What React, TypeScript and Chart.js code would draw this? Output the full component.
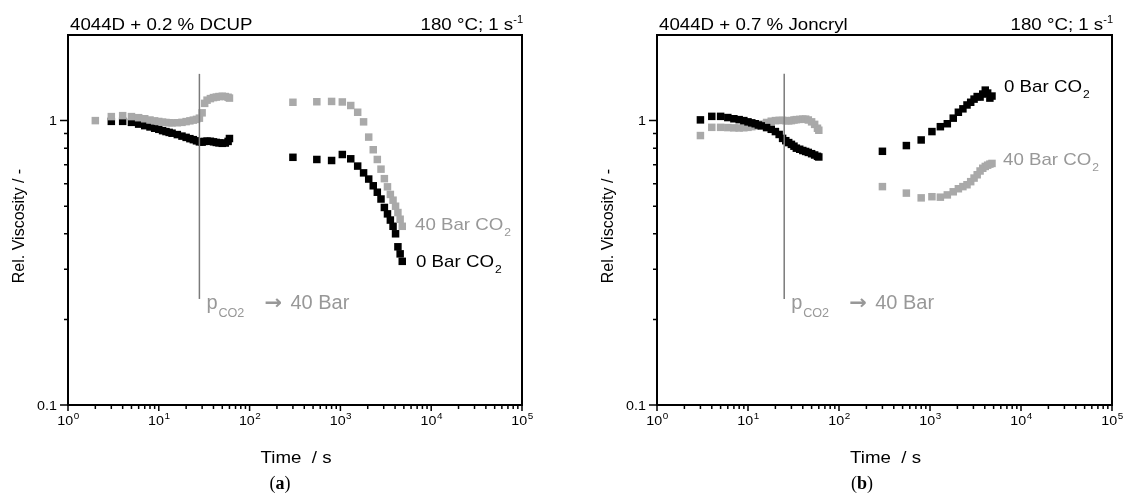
import React, { useEffect, useRef } from "react";
import { Chart, registerables } from "chart.js";

Chart.register(...registerables);

// ---------------- data ----------------
// time axis / value axis
const xMin = 1;
const xMax = 100000;
const yMin = 0.1;
const yMax = 2;
const xTickExponents = [0, 1, 2, 3, 4, 5];
const yTickValues = [0.1, 1];
const yTickLabels = ["0.1", "1"];
const yMinorTicks = [0.2, 0.3, 0.4, 0.5, 0.6, 0.7, 0.8, 0.9];
const xMinorMultipliers = [2, 3, 4, 5, 6, 7, 8, 9];

// shared measurement times (s)
const leftTime = [3, 4, 5, 6, 7, 8, 9, 10, 11, 12, 13, 14, 16, 18, 20, 22, 24, 26, 28, 30, 32, 34, 37, 40, 43, 46, 50, 54, 58, 60];
const rightTime = [300, 550, 800, 1050, 1300, 1550, 1800, 2050, 2300, 2550, 2800, 3050, 3300, 3550, 3800, 4050, 4300, 4550, 4800];

// panel (a): 4044D + 0.2 % DCUP
const aGrayLeftTime = [2, 3, 4, 5, 6, 7, 8, 9, 10, 11, 12, 13, 14, 16, 18, 20, 22, 24, 26, 28, 30, 32, 34, 37, 40, 43, 46, 50, 54, 58, 60];
const aGrayLeft = [1.0, 1.033, 1.041, 1.033, 1.024, 1.015, 1.005, 0.998, 0.993, 0.988, 0.985, 0.983, 0.982, 0.983, 0.986, 0.992, 0.998, 1.004, 1.01, 1.02, 1.065, 1.15, 1.18, 1.195, 1.205, 1.21, 1.215, 1.218, 1.215, 1.208, 1.2];
const aGrayRight = [1.16, 1.165, 1.168, 1.163, 1.13, 1.07, 0.99, 0.875, 0.79, 0.73, 0.675, 0.625, 0.585, 0.55, 0.525, 0.5, 0.475, 0.45, 0.425];
const aBlackLeft = [0.994, 0.994, 0.986, 0.972, 0.96, 0.95, 0.94, 0.932, 0.922, 0.915, 0.909, 0.903, 0.893, 0.882, 0.873, 0.864, 0.857, 0.849, 0.842, 0.84, 0.845, 0.847, 0.846, 0.842, 0.838, 0.835, 0.832, 0.834, 0.845, 0.865];
const aBlackRight = [0.743, 0.73, 0.724, 0.76, 0.734, 0.692, 0.655, 0.623, 0.59, 0.56, 0.53, 0.495, 0.47, 0.447, 0.425, 0.4, 0.36, 0.34, 0.32];
const aSwitchTime = 28;

// panel (b): 4044D + 0.7 % Joncryl
const bBlackLeft = [1.006, 1.035, 1.035, 1.025, 1.015, 1.008, 1.0, 0.99, 0.982, 0.975, 0.965, 0.958, 0.945, 0.932, 0.915, 0.894, 0.866, 0.85, 0.837, 0.825, 0.813, 0.8, 0.793, 0.785, 0.779, 0.773, 0.765, 0.757, 0.749, 0.745];
const bBlackRight = [0.78, 0.817, 0.855, 0.915, 0.952, 0.975, 1.02, 1.07, 1.1, 1.135, 1.16, 1.19, 1.215, 1.21, 1.24, 1.28, 1.25, 1.2, 1.22];
const bGrayLeft = [0.886, 0.947, 0.947, 0.945, 0.943, 0.942, 0.944, 0.947, 0.952, 0.958, 0.965, 0.972, 0.985, 0.995, 1.0, 1.002, 1.002, 1.0, 0.998, 1.0, 1.005, 1.008, 1.01, 1.012, 1.012, 1.005, 0.99, 0.97, 0.94, 0.925];
const bGrayRight = [0.586, 0.556, 0.535, 0.54, 0.538, 0.548, 0.562, 0.576, 0.586, 0.595, 0.61, 0.628, 0.645, 0.665, 0.68, 0.69, 0.697, 0.703, 0.707];
const bSwitchTime = 25;

// pressure switch marker extent (relative viscosity)
const switchTop = 1.46;
const switchBottom = 0.236;

// ---------------- styles ----------------
const W = 1129;
const H = 497;
const BLACK = "#000000";
const GRAY = "#a9a9a9";
const TEXT_GRAY = "#989898";
const LINE_GRAY = "#7a7a7a";
const SANS = '"Liberation Sans", Arial, Helvetica, sans-serif';
const SX = 1.1;

type Legend = { text: string; sub: string; x: number; y: number; color: string };
type PanelCfg = {
  id: string;
  title: string;
  padding: { left: number; right: number; top: number; bottom: number };
  series: { time: number[]; visc: number[]; color: string }[];
  switchTime: number;
  legends: Legend[];
  yTitleX: number;
  caption: string;
  captionX: number;
};

const panels: PanelCfg[] = [
  {
    id: "a",
    title: "4044D + 0.2 % DCUP",
    padding: { left: 68, right: W - 522, top: 35, bottom: H - 405 },
    series: [
      { time: [...aGrayLeftTime, ...rightTime], visc: [...aGrayLeft, ...aGrayRight], color: GRAY },
      { time: [...leftTime, ...rightTime], visc: [...aBlackLeft, ...aBlackRight], color: BLACK },
    ],
    switchTime: aSwitchTime,
    legends: [
      { text: "40 Bar CO", sub: "2", x: 415, y: 230, color: TEXT_GRAY },
      { text: "0 Bar CO", sub: "2", x: 416, y: 267, color: BLACK },
    ],
    yTitleX: 20,
    caption: "a",
    captionX: 280,
  },
  {
    id: "b",
    title: "4044D + 0.7 % Joncryl",
    padding: { left: 657, right: W - 1112, top: 35, bottom: H - 405 },
    series: [
      { time: [...leftTime, ...rightTime], visc: [...bBlackLeft, ...bBlackRight], color: BLACK },
      { time: [...leftTime, ...rightTime], visc: [...bGrayLeft, ...bGrayRight], color: GRAY },
    ],
    switchTime: bSwitchTime,
    legends: [
      { text: "0 Bar CO", sub: "2", x: 1004, y: 92, color: BLACK },
      { text: "40 Bar CO", sub: "2", x: 1003, y: 165, color: TEXT_GRAY },
    ],
    yTitleX: 609,
    caption: "b",
    captionX: 862,
  },
];

// ---------------- drawing helpers ----------------
function measure(ctx: CanvasRenderingContext2D, s: string, font: string, sx = SX) {
  ctx.save();
  ctx.font = font;
  const w = ctx.measureText(s).width * sx;
  ctx.restore();
  return w;
}

function txt(
  ctx: CanvasRenderingContext2D,
  s: string,
  x: number,
  y: number,
  font: string,
  color: string,
  align: CanvasTextAlign = "left",
  sx = SX
) {
  ctx.save();
  ctx.font = font;
  ctx.fillStyle = color;
  ctx.textAlign = align;
  ctx.textBaseline = "alphabetic";
  ctx.translate(x, y);
  ctx.scale(sx, 1);
  ctx.fillText(s, 0, 0);
  ctx.restore();
}

function overlay(p: PanelCfg) {
  return {
    id: "overlay-" + p.id,
    afterDatasetsDraw(chart: any) {
      const ctx: CanvasRenderingContext2D = chart.ctx;
      const xs = chart.scales.x;
      const ys = chart.scales.y;
      const L = xs.getPixelForValue(xMin);
      const R = xs.getPixelForValue(xMax);
      const T = ys.getPixelForValue(yMax);
      const B = ys.getPixelForValue(yMin);

      // pressure switch line
      const sxp = xs.getPixelForValue(p.switchTime);
      ctx.save();
      ctx.strokeStyle = LINE_GRAY;
      ctx.lineWidth = 1.5;
      ctx.beginPath();
      ctx.moveTo(sxp, ys.getPixelForValue(switchTop));
      ctx.lineTo(sxp, ys.getPixelForValue(switchBottom));
      ctx.stroke();
      ctx.restore();

      // annotation p_CO2 -> 40 Bar
      const base = ys.getPixelForValue(switchBottom) + 10;
      txt(ctx, "p", sxp + 7, base, `20px ${SANS}`, TEXT_GRAY, "left", 1);
      txt(ctx, "CO2", sxp + 19, base + 8, `12px ${SANS}`, TEXT_GRAY, "left", 1.05);
      txt(ctx, "\u2192", sxp + 65, base, `bold 20px "DejaVu Sans", sans-serif`, TEXT_GRAY, "left", 1.05);
      txt(ctx, "40 Bar", sxp + 91, base, `20px ${SANS}`, TEXT_GRAY, "left", 1);

      // legends
      for (const lg of p.legends) {
        const f = `17px ${SANS}`;
        txt(ctx, lg.text, lg.x, lg.y, f, lg.color);
        const w = measure(ctx, lg.text, f);
        txt(ctx, lg.sub, lg.x + w + 1, lg.y + 6, `11px ${SANS}`, lg.color);
      }

      // frame
      ctx.save();
      ctx.strokeStyle = BLACK;
      ctx.lineWidth = 2;
      ctx.strokeRect(L, T, R - L, B - T);

      // ticks
      ctx.lineWidth = 1.5;
      ctx.beginPath();
      for (const e of xTickExponents) {
        const px = xs.getPixelForValue(Math.pow(10, e));
        ctx.moveTo(px, B);
        ctx.lineTo(px, B + 6);
        if (e < xTickExponents[xTickExponents.length - 1]) {
          for (const m of xMinorMultipliers) {
            const qx = xs.getPixelForValue(m * Math.pow(10, e));
            ctx.moveTo(qx, B);
            ctx.lineTo(qx, B + 4);
          }
        }
      }
      for (const v of yTickValues) {
        const py = ys.getPixelForValue(v);
        ctx.moveTo(L, py);
        ctx.lineTo(L - 8, py);
      }
      for (const v of yMinorTicks) {
        const py = ys.getPixelForValue(v);
        ctx.moveTo(L, py);
        ctx.lineTo(L - 4, py);
      }
      ctx.stroke();
      ctx.restore();

      // x tick labels 10^n
      for (const e of xTickExponents) {
        const px = xs.getPixelForValue(Math.pow(10, e));
        const fb = `13px ${SANS}`;
        const fs = `9px ${SANS}`;
        const wb = measure(ctx, "10", fb);
        const ws = measure(ctx, String(e), fs);
        const start = px - (wb + ws) / 2;
        txt(ctx, "10", start, B + 20, fb, BLACK);
        txt(ctx, String(e), start + wb + 0.5, B + 14, fs, BLACK);
      }
      // y tick labels
      yTickValues.forEach((v, i) => {
        const py = ys.getPixelForValue(v);
        txt(ctx, yTickLabels[i], L - 11, py + 4.7, `13px ${SANS}`, BLACK, "right");
      });

      // axis titles
      txt(ctx, "Time  / s", (L + R) / 2 + 1, B + 58, `17px ${SANS}`, BLACK, "center");
      ctx.save();
      ctx.translate(p.yTitleX, (T + B) / 2 + 6);
      ctx.rotate(-Math.PI / 2);
      ctx.font = `16px ${SANS}`;
      ctx.fillStyle = BLACK;
      ctx.textAlign = "center";
      ctx.textBaseline = "middle";
      ctx.fillText("Rel. Viscosity / -", 0, 0);
      ctx.restore();

      // header texts
      txt(ctx, p.title, L + 2, T - 5, `17px ${SANS}`, BLACK);
      const supF = `10px ${SANS}`;
      const mainF = `17px ${SANS}`;
      const wsup = measure(ctx, "-1", supF);
      txt(ctx, "180 \u00B0C; 1 s", R + 1 - wsup, T - 5, mainF, BLACK, "right");
      txt(ctx, "-1", R + 1 - wsup, T - 12, supF, BLACK);

      // panel caption
      ctx.save();
      const serif = `"Liberation Serif", "Times New Roman", serif`;
      ctx.font = `bold 18px ${serif}`;
      const fw = ctx.measureText("(" + p.caption + ")").width;
      const cx0 = p.captionX - fw / 2;
      ctx.fillStyle = BLACK;
      ctx.textBaseline = "alphabetic";
      ctx.font = `18px ${serif}`;
      ctx.fillText("(", cx0, H - 8);
      const w1 = ctx.measureText("(").width;
      ctx.font = `bold 18px ${serif}`;
      ctx.fillText(p.caption, cx0 + w1, H - 8);
      const w2 = ctx.measureText(p.caption).width;
      ctx.font = `18px ${serif}`;
      ctx.fillText(")", cx0 + w1 + w2, H - 8);
      ctx.restore();
    },
  };
}

function PanelChart({ cfg }: { cfg: PanelCfg }) {
  const ref = useRef<HTMLCanvasElement | null>(null);
  useEffect(() => {
    if (!ref.current) return;
    const chart = new Chart(ref.current, {
      type: "scatter",
      data: {
        datasets: cfg.series.map((s) => ({
          data: s.time.map((t, i) => ({ x: t, y: s.visc[i] })),
          pointStyle: "rect",
          pointRadius: 5.3,
          pointBorderWidth: 0,
          pointBackgroundColor: s.color,
          backgroundColor: s.color,
          borderColor: s.color,
          showLine: false,
        })),
      },
      options: {
        responsive: false,
        animation: false,
        devicePixelRatio: 1,
        events: [],
        layout: { padding: cfg.padding },
        plugins: {
          legend: { display: false },
          tooltip: { enabled: false },
          title: { display: false },
        },
        scales: {
          x: { type: "logarithmic", min: xMin, max: xMax, display: false },
          y: { type: "logarithmic", min: yMin, max: yMax, display: false },
        },
      } as any,
      plugins: [overlay(cfg)],
    } as any);
    return () => chart.destroy();
  }, [cfg]);
  return (
    <canvas
      ref={ref}
      width={W}
      height={H}
      style={{ position: "absolute", left: 0, top: 0, width: W, height: H }}
    />
  );
}

export default function App() {
  return (
    <div style={{ position: "fixed", left: 0, top: 0, width: W, height: H, background: "#ffffff" }}>
      {panels.map((p) => (
        <PanelChart key={p.id} cfg={p} />
      ))}
    </div>
  );
}
